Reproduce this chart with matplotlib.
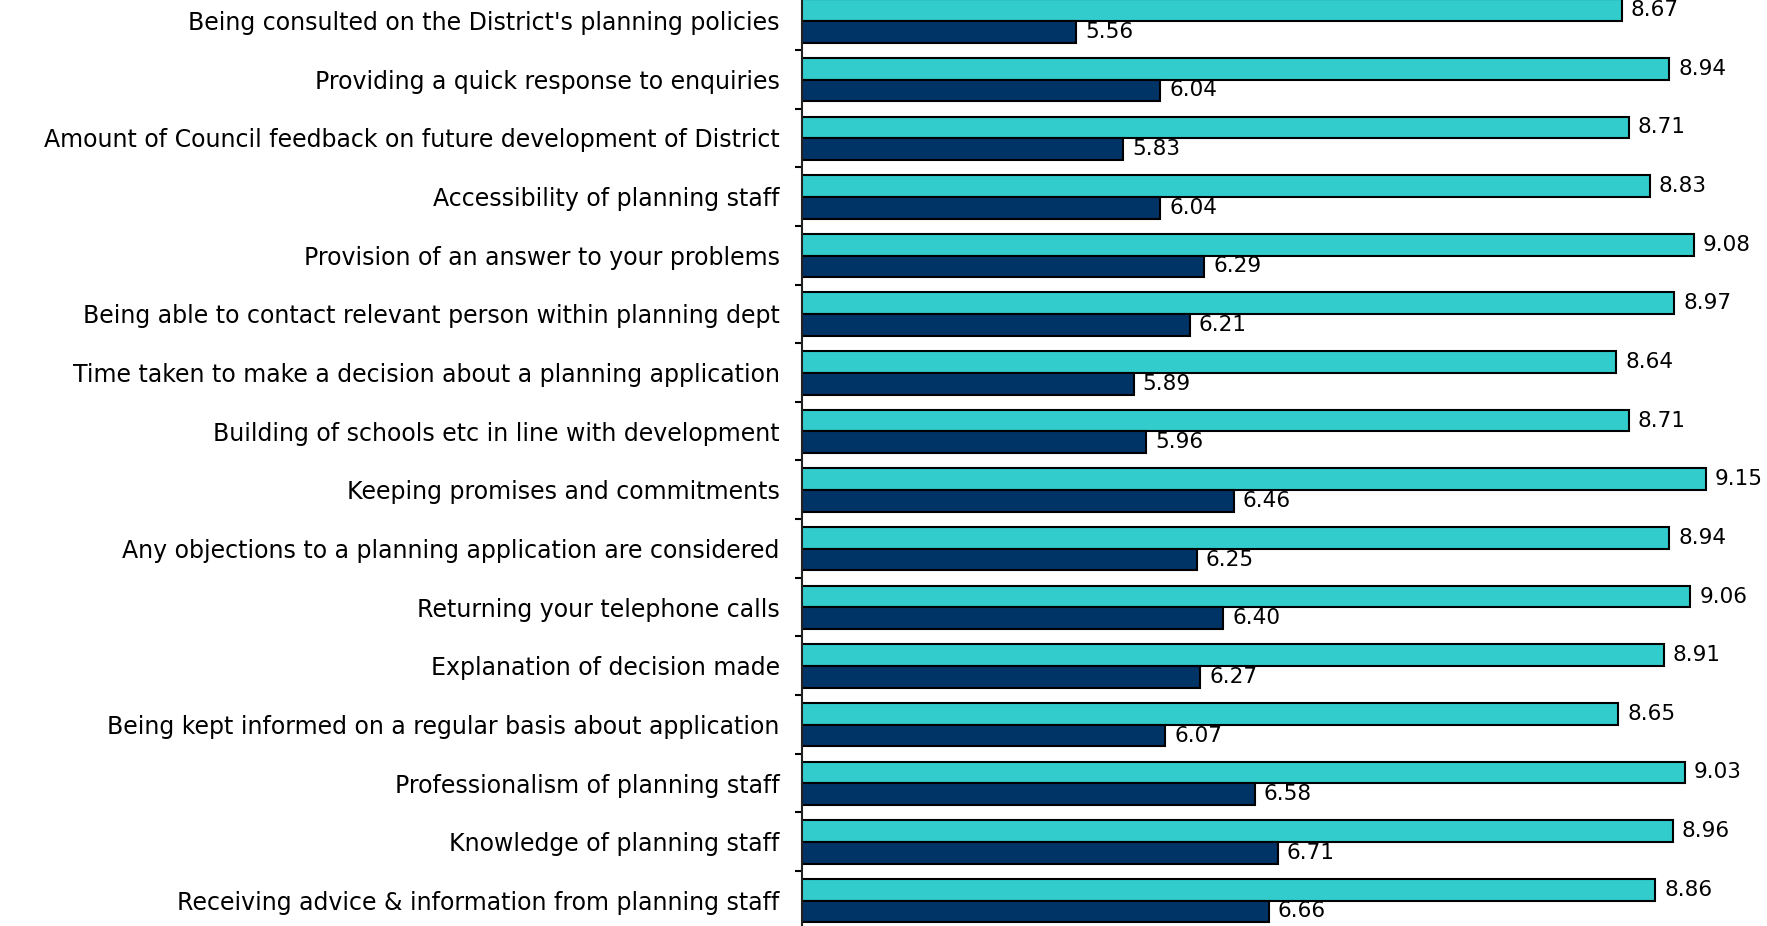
import numpy as np
import matplotlib.pyplot as plt

# categories, top to bottom
categories = [
    "Being consulted on the District's planning policies",
    "Providing a quick response to enquiries",
    "Amount of Council feedback on future development of District",
    "Accessibility of planning staff",
    "Provision of an answer to your problems",
    "Being able to contact relevant person within planning dept",
    "Time taken to make a decision about a planning application",
    "Building of schools etc in line with development",
    "Keeping promises and commitments",
    "Any objections to a planning application are considered",
    "Returning your telephone calls",
    "Explanation of decision made",
    "Being kept informed on a regular basis about application",
    "Professionalism of planning staff",
    "Knowledge of planning staff",
    "Receiving advice & information from planning staff",
]
importance = [8.67, 8.94, 8.71, 8.83, 9.08, 8.97, 8.64, 8.71, 9.15, 8.94,
              9.06, 8.91, 8.65, 9.03, 8.96, 8.86]
satisfaction = [5.56, 6.04, 5.83, 6.04, 6.29, 6.21, 5.89, 5.96, 6.46, 6.25,
                6.40, 6.27, 6.07, 6.58, 6.71, 6.66]

fig = plt.figure(figsize=(17.67, 9.26), dpi=100)
ax = fig.add_axes([0.4539, -0.0039, 0.596, 1.0132])

n = len(categories)
y = np.arange(n)[::-1]
h = 0.37

b1 = ax.barh(y + 0.18, importance, height=h, left=0, color='#33CCCC',
             edgecolor='black', linewidth=1.5)
b2 = ax.barh(y - 0.19, satisfaction, height=h, left=0, color='#003366',
             edgecolor='black', linewidth=1.5)

for bars, vals in [(b1, importance), (b2, satisfaction)]:
    for bar, v in zip(bars, vals):
        ax.annotate(f"{v:.2f}", (v, bar.get_y() + bar.get_height() / 2),
                    xytext=(6.5, 0), textcoords='offset points',
                    ha='left', va='center', fontsize=15.5, color='black')

ax.set_xlim(4, 10)
ax.set_ylim(-0.5, n - 0.5)

ax.set_yticks(y)
ax.set_yticklabels(categories, fontsize=17)
ax.tick_params(axis='y', which='major', length=0, pad=16)
ax.set_yticks(np.arange(-0.5, n, 1.0), minor=True)
ax.tick_params(axis='y', which='minor', length=5, width=1.5, direction='out')
ax.set_xticks([])

for s in ['top', 'right', 'bottom']:
    ax.spines[s].set_visible(False)
ax.spines['left'].set_linewidth(1.5)
ax.spines['left'].set_color('#222222')

fig.savefig('out.png', dpi=100)
